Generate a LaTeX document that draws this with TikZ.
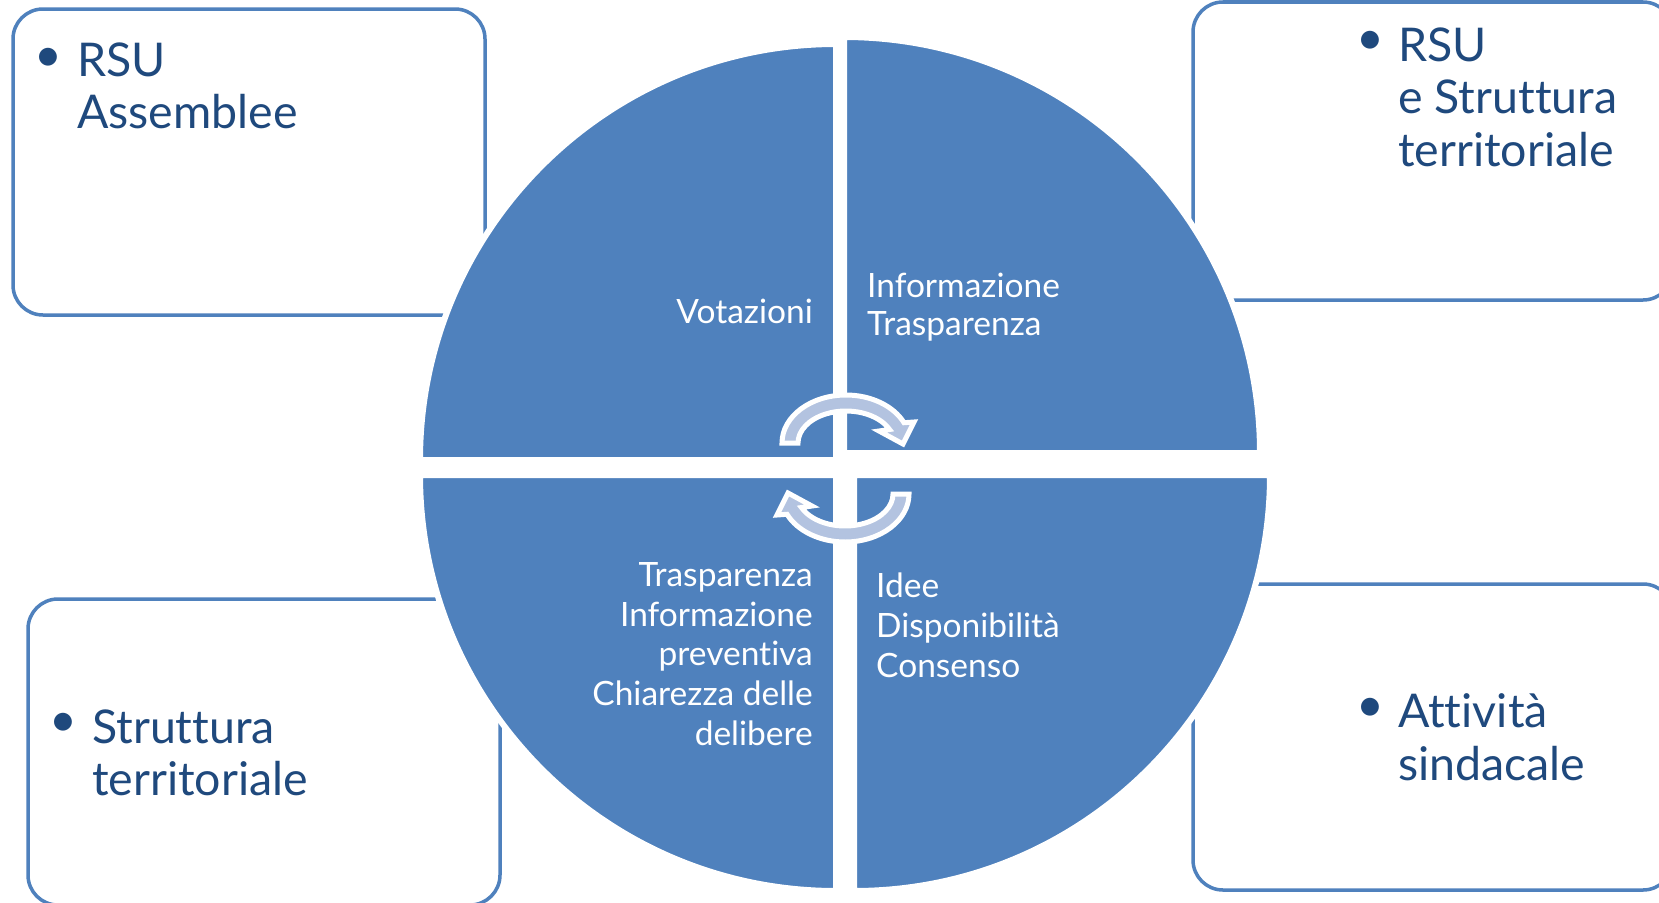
\documentclass[tikz,border=0pt]{standalone}
\usepackage{fontspec}
\setmainfont{Lato}[Ligatures={NoCommon,NoRare}]
\definecolor{accent}{HTML}{4F81BD}
\definecolor{darktext}{HTML}{1F497D}
\definecolor{arrowfill}{HTML}{B3C3E0}
\tikzset{
  pics/cyclearrow/.style={code={
    \path[arrowshape] (180:64 and 48) arc[start angle=180,end angle=335,x radius=64,y radius=48]
      -- (68,-21) -- (57,1) -- (33,-12) -- (335:48 and 32)
      arc[start angle=335,end angle=180,x radius=48,y radius=32] -- cycle;
  }}
}
\begin{document}
\begin{tikzpicture}[x=1pt,y=-1pt,
  box/.style={draw=accent, line width=3.5pt, rounded corners=30pt},
  quad/.style={fill=accent, draw=white, line width=6pt, line join=miter},
  outertext/.style={text=darktext, font=\fontsize{46.5}{52}\selectfont, inner sep=0pt, anchor=base west},
  bul/.style={text=darktext, font=\fontsize{48}{52}\selectfont, inner sep=0pt, anchor=center},
  inl/.style={text=white, font=\fontsize{33.5}{39}\selectfont, inner sep=0pt, anchor=base west},
  inr/.style={text=white, font=\fontsize{33.5}{39}\selectfont, inner sep=0pt, anchor=base east},
  arrowshape/.style={fill=arrowfill, draw=white, line width=5pt, line join=miter},
]
\useasboundingbox (0,0) rectangle (1659,902);
\clip (0,0) rectangle (1659,902);
\fill[white] (0,0) rectangle (1659,902);

% outer boxes
\draw[box] (13,9) rectangle (485,315);
\draw[box] (1193,2) rectangle (1673,300);
\draw[box] (28,599) rectangle (500,905);
\draw[box] (1193,584) rectangle (1673,890);

% quadrants
\path[quad] (836,460) -- ++(-416,0) arc[start angle=180,end angle=270,radius=416] -- cycle;
\path[quad] (844,453) -- ++(0,-416) arc[start angle=270,end angle=360,radius=416] -- cycle;
\path[quad] (836,475) -- ++(-416,0) arc[start angle=180,end angle=90,radius=416] -- cycle;
\path[quad] (854,475) -- ++(416,0) arc[start angle=0,end angle=90,radius=416] -- cycle;

% cycle arrows
\pic (toparrow) at (846,443) {cyclearrow};
\pic[rotate=180] (botarrow) at (845,494) {cyclearrow};

% box texts
\node[bul] (b1) at (48,60) {•};
\node[outertext] (t1a) at (77,76) {RSU};
\node[outertext] (t1b) at (77,128) {Assemblee};

\node[bul] (b2) at (1370,43) {•};
\node[outertext] (t2a) at (1398,61) {RSU};
\node[outertext] (t2b) at (1398,113) {e Struttura};
\node[outertext] (t2c) at (1398,166) {territoriale};

\node[bul] (b3) at (63,725) {•};
\node[outertext] (t3a) at (92,743) {Struttura};
\node[outertext] (t3b) at (92,795) {territoriale};

\node[bul] (b4) at (1370,710) {•};
\node[outertext] (t4a) at (1398,727) {Attività};
\node[outertext] (t4b) at (1398,780) {sindacale};

% quadrant texts
\node[inr] (q1) at (813,323) {Votazioni};
\node[inl] (q2a) at (867,297) {Informazione};
\node[inl] (q2b) at (867,335) {Trasparenza};
\node[inr] (q3a) at (813,586) {Trasparenza};
\node[inr] (q3b) at (813,626) {Informazione};
\node[inr] (q3c) at (813,665) {preventiva};
\node[inr] (q3d) at (813,705) {Chiarezza delle};
\node[inr] (q3e) at (813,745) {delibere};
\node[inl] (q4a) at (876,597) {Idee};
\node[inl] (q4b) at (876,637) {Disponibilità};
\node[inl] (q4c) at (876,677) {Consenso};
\end{tikzpicture}
\end{document}
